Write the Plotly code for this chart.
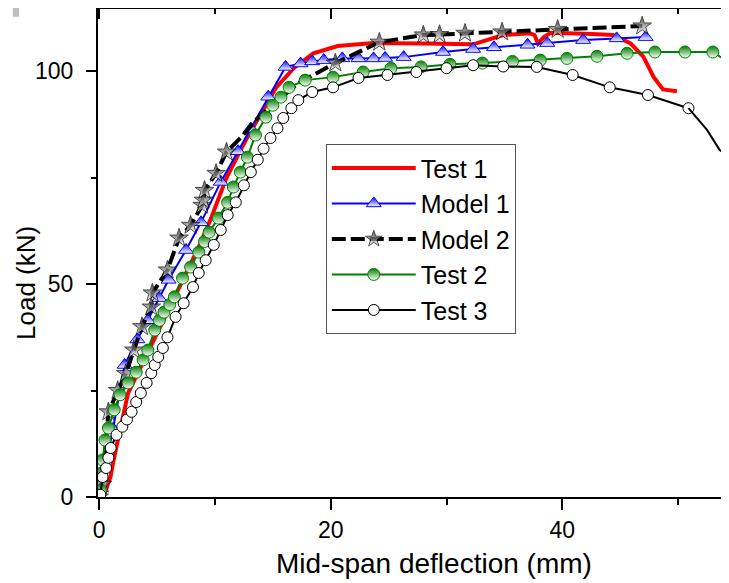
import plotly.graph_objects as go

# Test 1 (red, no markers)
t1_x = [0, 0.5, 1.0, 1.2, 1.8, 2.5, 4.0, 6.0, 8.6, 9.7, 11.0, 12.8, 14.0, 15.3, 16.8, 18.5, 20.6, 23.7,
        28.0, 32.3, 34.9, 37.2, 37.6, 37.9, 38.4, 39.0, 42.0, 44.4, 45.9, 47.0, 47.9, 48.7, 49.9]
t1_y = [0, 1, 5, 8, 15.7, 24.4, 32.8, 44, 58.7, 65.7, 75, 84.5, 90, 96.2, 100.7, 104.2, 105.9, 106.6,
        106.5, 106.3, 108.5, 108.9, 108.5, 106.5, 108, 109, 108.8, 108.5, 106.5, 103.4, 98.6, 95.7, 95.3]

# Model 1 (blue, triangles)
m1_x = [0, 1.2, 2.2, 3.3, 4.2, 5.2, 6.0, 7.5, 8.8, 10.5, 12.0, 13.1, 14.6, 16.1, 17.4, 18.4, 19.4,
        21.0, 22.4, 23.7, 24.7, 26.3, 29.7, 32.3, 34.1, 37.0, 38.7, 41.8, 44.7, 47.2]
m1_y = [0, 16, 31, 37, 41.5, 46.7, 51, 58, 64.5, 74, 81.2, 86.5, 94, 101, 101.8, 102.3, 102.6,
        103, 103, 103, 103.1, 103.3, 104.5, 105.2, 105.6, 106.2, 106.6, 107.3, 107.7, 108]

# Model 2 (black dashed, stars); points with star=0 carry the line only
m2_x = [0, 0.3, 0.8, 1.6, 2.3, 3.0, 3.7, 4.5, 4.6, 5.9, 6.9, 7.9, 8.9, 9.0, 9.1, 10.1, 11.0,
        12.2, 13.7, 17.2, 20.4, 24.2, 28.0, 29.4, 31.6, 34.8, 39.6, 46.9]
m2_y = [0, 3, 20, 25, 29, 34.5, 40, 44.6, 47.9, 53.3, 60.8, 63.8, 68.5, 69.7, 72, 76, 81,
        84.3, 89, 97.2, 101.9, 106.8, 108.5, 108.6, 108.9, 109.2, 109.8, 110.6]
m2_star = [1, 1, 1, 1, 1, 1, 1, 1, 1, 1, 1, 1, 1, 1, 1, 1, 1,
           0, 0, 0, 1, 1, 1, 1, 1, 1, 1, 1]

# Test 2 (green, half-filled circles)
t2_x = [0, 0.1, 0.2, 0.3, 0.5, 0.8, 1.3, 1.8, 2.5, 3.2, 3.8, 4.2, 4.8, 5.2, 5.6, 6.1, 6.5, 7.2, 7.9,
        8.6, 9.1, 9.5, 10.3, 11.1, 11.6, 12.2, 12.8, 13.5, 14.4, 15.0, 15.7, 16.4, 17.8, 20.2, 22.8,
        25.2, 27.8, 30.3, 33.1, 35.7, 38.1, 40.4, 43.0, 45.6, 48.0, 50.6, 53.0, 54.4, 55.5]
t2_y = [0, 1.6, 5.6, 8.7, 13.4, 16.2, 20.5, 24, 26.8, 29.3, 32.2, 34.5, 39.2, 41.5, 43.4, 45.2, 47,
        51.4, 54, 57.5, 60, 62.2, 65.5, 69.2, 72.8, 76.3, 79.8, 85, 89.2, 92, 93.9, 96.2, 97.9, 98.6,
        99.8, 100.7, 101, 101.6, 101.9, 102.3, 102.6, 103, 103.5, 104.2, 104.5, 104.5, 104.5, 102, 98]

# Test 3 (black, open circles)
t3_x = [0.1, 0.3, 0.6, 0.8, 1.0, 1.5, 2.0, 2.4, 2.8, 3.2, 3.6, 4.1, 4.5, 4.8, 5.1, 5.5, 5.9, 6.6,
        7.3, 8.1, 8.6, 9.2, 9.9, 10.5, 11.1, 11.8, 12.5, 13.1, 13.7, 14.2, 14.8, 15.4, 15.9, 16.6,
        17.2, 18.4, 20.2, 22.4, 24.9, 27.4, 30.0, 32.3, 34.9, 37.8, 40.9, 44.1, 47.4, 50.9]
t3_y = [0.5, 4.7, 6.8, 9.2, 11.5, 14.6, 16.5, 18.2, 20, 22.3, 24.4, 26.8, 29.1, 31, 32.9, 35, 37.5,
        42.3, 45.5, 49.3, 52.6, 55.6, 59.2, 62.7, 66.2, 69.2, 73.2, 76.3, 79.2, 81.8, 84.3, 86.6, 89,
        91.3, 93.2, 95.1, 96.2, 98.4, 99.1, 99.8, 100.7, 101.4, 101.1, 101, 99.1, 96.2, 94.4, 91.3]
t3_tail_x = [50.9, 52.5, 53.6, 54.4, 55.5]
t3_tail_y = [91.3, 86.2, 81.5, 79.8, 77]

FONT = "Liberation Sans, Arial, sans-serif"

fig = go.Figure()

fig.add_trace(go.Scatter(x=t1_x, y=t1_y, mode='lines', name='Test 1',
                         line=dict(color='#ff0000', width=4)))
fig.add_trace(go.Scatter(x=m1_x, y=m1_y, mode='lines+markers', name='Model 1',
                         line=dict(color='#0000ff', width=2),
                         marker=dict(symbol='triangle-up', size=13, color='#0000ff',
                                     gradient=dict(type='vertical', color='white'),
                                     line=dict(color='#0000ff', width=1))))
fig.add_trace(go.Scatter(x=m2_x, y=m2_y, mode='lines+markers', name='Model 2',
                         line=dict(color='black', width=4, dash='14px,5px'),
                         marker=dict(symbol='star', size=[14 * s for s in m2_star], color='black',
                                     gradient=dict(type='vertical', color='white'),
                                     line=dict(color='black', width=1))))
fig.add_trace(go.Scatter(x=t2_x, y=t2_y, mode='lines+markers', name='Test 2',
                         line=dict(color='#008000', width=2),
                         marker=dict(symbol='circle', size=12, color='#008000',
                                     gradient=dict(type='vertical', color='white'),
                                     line=dict(color='#008000', width=1))))
fig.add_trace(go.Scatter(x=t3_x, y=t3_y, mode='lines+markers', name='Test 3',
                         line=dict(color='black', width=2),
                         marker=dict(symbol='circle', size=11, color='white',
                                     line=dict(color='black', width=1))))
fig.add_trace(go.Scatter(x=t3_tail_x, y=t3_tail_y, mode='lines', showlegend=False,
                         line=dict(color='black', width=2)))
# carrier for the top axis with inward ticks
fig.add_trace(go.Scatter(x=[], y=[], xaxis='x2', showlegend=False, hoverinfo='skip'))

# page body adds an offset, so margins are set in figure coordinates accordingly
fig.update_layout(
    width=729, height=583,
    margin=dict(l=90, r=8, t=1, b=94, autoexpand=False),
    paper_bgcolor='white', plot_bgcolor='white',
    font=dict(family=FONT, size=26, color='black'),
    showlegend=True,
    legend=dict(x=0.361, y=0.723, xanchor='left', yanchor='top',
                bgcolor='white', bordercolor='#555555', borderwidth=1,
                font=dict(size=25), itemwidth=84, tracegroupgap=0),
    xaxis=dict(range=[-0.1, 54.4], showgrid=False, zeroline=False,
               showline=True, linecolor='black', linewidth=2,
               ticks='outside', ticklen=11, tickwidth=2, tickcolor='black',
               dtick=20, tick0=0, tickfont=dict(size=23),
               minor=dict(dtick=10, ticks='outside', ticklen=6, tickwidth=2, tickcolor='black')),
    xaxis2=dict(overlaying='x', side='top', matches='x', range=[-0.1, 54.4],
                showgrid=False, zeroline=False, showticklabels=False,
                showline=True, linecolor='black', linewidth=2,
                ticks='inside', ticklen=10, tickwidth=2, tickcolor='black', dtick=20, tick0=0,
                minor=dict(dtick=10, ticks='inside', ticklen=5, tickwidth=2, tickcolor='black')),
    yaxis=dict(range=[0, 114.6], showgrid=False, zeroline=False,
               showline=True, linecolor='black', linewidth=2,
               ticks='outside', ticklen=10, tickwidth=2, tickcolor='black',
               dtick=50, tick0=0, tickfont=dict(size=23), ticklabelstandoff=8,
               minor=dict(dtick=25, ticks='outside', ticklen=5, tickwidth=2, tickcolor='black')),
    annotations=[
        dict(text='Mid-span deflection (mm)', xref='paper', yref='paper', x=0.532, y=-0.137,
             xanchor='center', yanchor='middle', showarrow=False, font=dict(size=28)),
        dict(text='Load (kN)', xref='paper', yref='paper', x=-0.113, y=0.438,
             xanchor='center', yanchor='middle', showarrow=False, textangle=-90,
             font=dict(size=26)),
    ],
    shapes=[dict(type='rect', xref='paper', yref='paper', x0=-0.135, x1=-0.125,
                 y0=1.006, y1=0.984, fillcolor='#c0c0c0', line=dict(width=0))],
)

fig.write_html("out.html")
